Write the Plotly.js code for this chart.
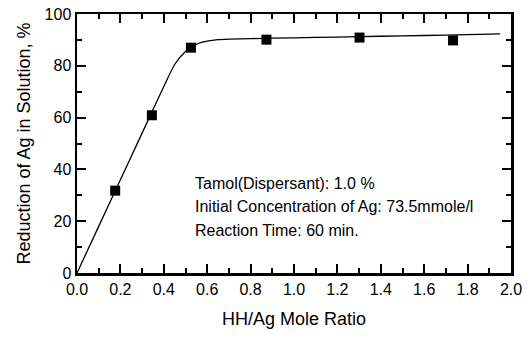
<!DOCTYPE html>
<html>
<head>
<meta charset="utf-8">
<script src="https://cdn.plot.ly/plotly-3.0.1.min.js"></script>
<style>html,body{margin:0;padding:0;background:#fff;}#chart{width:532px;height:338px;}</style>
</head>
<body>
<div id="chart"></div>
<script>
// Measured data points
var ratio = [0.176, 0.345, 0.525, 0.873, 1.302, 1.733];
var reduction = [31.8, 60.9, 87.0, 90.1, 90.9, 89.8];

// Fitted curve
var curveX = [0, 0.1, 0.2, 0.3, 0.4, 0.45, 0.5, 0.55, 0.6, 0.65, 0.7, 0.8, 1.0, 1.2, 1.4, 1.6, 1.8, 1.95];
var curveY = [0, 18, 36, 54, 72, 80.5, 85.5, 88.3, 89.5, 90.1, 90.3, 90.5, 90.8, 91.1, 91.4, 91.7, 92.0, 92.3];

var xTicks = [0, 0.2, 0.4, 0.6, 0.8, 1.0, 1.2, 1.4, 1.6, 1.8, 2.0];
var xTickText = ["0.0", "0.2", "0.4", "0.6", "0.8", "1.0", "1.2", "1.4", "1.6", "1.8", "2.0"];
var yTicks = [0, 20, 40, 60, 80, 100];
var yTickText = ["0", "20", "40", "60", "80", "100"];

var noteLines = ["Tamol(Dispersant): 1.0 %", "Initial Concentration of Ag: 73.5mmole/l", "Reaction Time: 60 min."];

var FONT = "Liberation Sans, Arial, sans-serif";

var traces = [
  {x: curveX, y: curveY, mode: "lines", line: {color: "#000", width: 1.3, shape: "spline", smoothing: 0.6}, hoverinfo: "skip", showlegend: false},
  {x: ratio, y: reduction, mode: "markers", marker: {symbol: "square", size: 10, color: "#000"}, showlegend: false}
];

var noteY = [34.7, 25.5, 16.6];
var annotations = noteLines.map(function (t, i) {
  return {x: 0.535, y: noteY[i], xref: "x", yref: "y", text: t, showarrow: false, xanchor: "left", yanchor: "middle", font: {family: FONT, size: 16, color: "#000"}};
});

var axisCommon = {
  showgrid: false, zeroline: false, showline: true, linecolor: "#000", linewidth: 2.5,
  mirror: "allticks", ticks: "inside", ticklen: 9, tickwidth: 2, tickcolor: "#000",
  tickfont: {family: FONT, size: 16, color: "#000"}
};

var layout = {
  width: 532, height: 338,
  margin: {l: 77, r: 21, t: 14, b: 65},
  paper_bgcolor: "#fff", plot_bgcolor: "#fff",
  xaxis: Object.assign({}, axisCommon, {
    range: [0, 2.0], tickmode: "array", tickvals: xTicks, ticktext: xTickText,
    minor: {dtick: 0.1, ticks: "inside", ticklen: 5, tickwidth: 2, tickcolor: "#000", showgrid: false},
    title: {text: "HH/Ag Mole Ratio", font: {family: FONT, size: 18, color: "#000"}, standoff: 16}
  }),
  yaxis: Object.assign({}, axisCommon, {
    range: [0, 100], tickmode: "array", tickvals: yTicks, ticktext: yTickText,
    minor: {dtick: 10, ticks: "inside", ticklen: 5, tickwidth: 2, tickcolor: "#000", showgrid: false},
    title: {text: "Reduction of Ag in Solution, %", font: {family: FONT, size: 18, color: "#000"}, standoff: 10}
  }),
  annotations: annotations
};

Plotly.newPlot("chart", traces, layout, {displayModeBar: false, staticPlot: true});
</script>
</body>
</html>
